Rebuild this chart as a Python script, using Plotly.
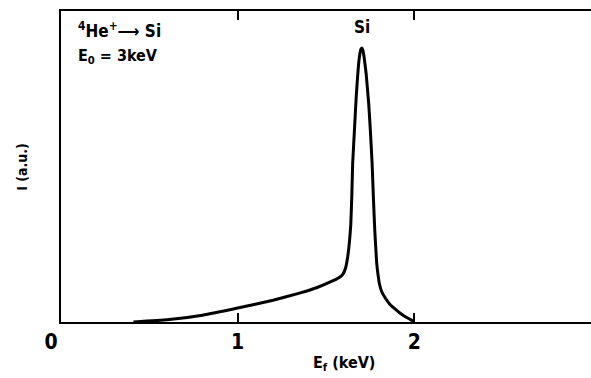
import plotly.graph_objects as go

# Spectrum of 4He+ -> Si, E0 = 3 keV
energy_kev = [0.41, 0.6, 0.8, 1.0, 1.2, 1.35, 1.45, 1.537, 1.575, 1.595, 1.610, 1.623, 1.633,
              1.640, 1.646, 1.651, 1.661, 1.671, 1.679, 1.685, 1.692, 1.698, 1.703, 1.709, 1.716,
              1.727, 1.742, 1.751, 1.761, 1.768, 1.776, 1.787, 1.795, 1.802, 1.815, 1.831,
              1.86, 1.897, 1.94, 1.99, 2.0]
intensity = [0.0, 0.007, 0.022, 0.045, 0.07, 0.093, 0.111, 0.132, 0.143, 0.153, 0.172, 0.21, 0.26,
             0.31, 0.403, 0.51, 0.617, 0.724, 0.79, 0.832, 0.863, 0.878, 0.881, 0.873, 0.85,
             0.80, 0.70, 0.617, 0.51, 0.403, 0.296, 0.189, 0.15, 0.124, 0.098, 0.081,
             0.058, 0.039, 0.02, 0.004, 0.0]
x_ticks = [0, 1, 2, 3]
x_tick_labels = ["0&nbsp;&nbsp;&nbsp;", "1", "2", "3"]

FONT = "DejaVu Sans Condensed"

fig = go.Figure()
fig.add_trace(go.Scatter(x=energy_kev, y=intensity, mode="lines",
                         line=dict(color="black", width=3, shape="spline", smoothing=0.3),
                         hoverinfo="skip", showlegend=False))

fig.update_layout(
    width=591, height=378,
    margin=dict(l=61, r=0, t=11, b=56),
    paper_bgcolor="white", plot_bgcolor="white",
    font=dict(family=FONT, color="black"),
    xaxis=dict(range=[0, 3], tickvals=x_ticks, ticktext=x_tick_labels,
               ticks="inside", ticklen=9, tickwidth=1.5, tickcolor="black",
               showline=True, linecolor="black", linewidth=2, mirror="ticks",
               showgrid=False, zeroline=False,
               tickfont=dict(size=21, family=FONT, weight="bold")),
    yaxis=dict(range=[0, 1], showticklabels=False, ticks="",
               showline=True, linecolor="black", linewidth=2, mirror=False,
               showgrid=False, zeroline=False),
    annotations=[
        dict(text="<sup>4</sup>He<sup>+</sup>\u27f6 Si", xref="paper", yref="paper",
             x=0.028, y=0.94, xanchor="left", yanchor="middle", showarrow=False,
             font=dict(size=17, family=FONT, weight="bold")),
        dict(text="E<sub>0</sub> = 3keV", xref="paper", yref="paper",
             x=0.028, y=0.855, xanchor="left", yanchor="middle", showarrow=False,
             font=dict(size=16, family=FONT, weight="bold")),
        dict(text="Si", xref="x", yref="paper", x=1.705, y=0.95,
             xanchor="center", yanchor="middle", showarrow=False,
             font=dict(size=17, family=FONT, weight="bold")),
        dict(text="E<sub>f</sub> (keV)", xref="x", yref="paper", x=1.6, y=-0.135,
             xanchor="center", yanchor="middle", showarrow=False,
             font=dict(size=16, family=FONT, weight="bold")),
        dict(text="I (a.u.)", xref="paper", yref="paper", x=-0.075, y=0.5,
             xanchor="center", yanchor="middle", showarrow=False, textangle=-90,
             font=dict(size=14, family=FONT, weight="bold")),
    ],
)

fig.write_html("out.html")
